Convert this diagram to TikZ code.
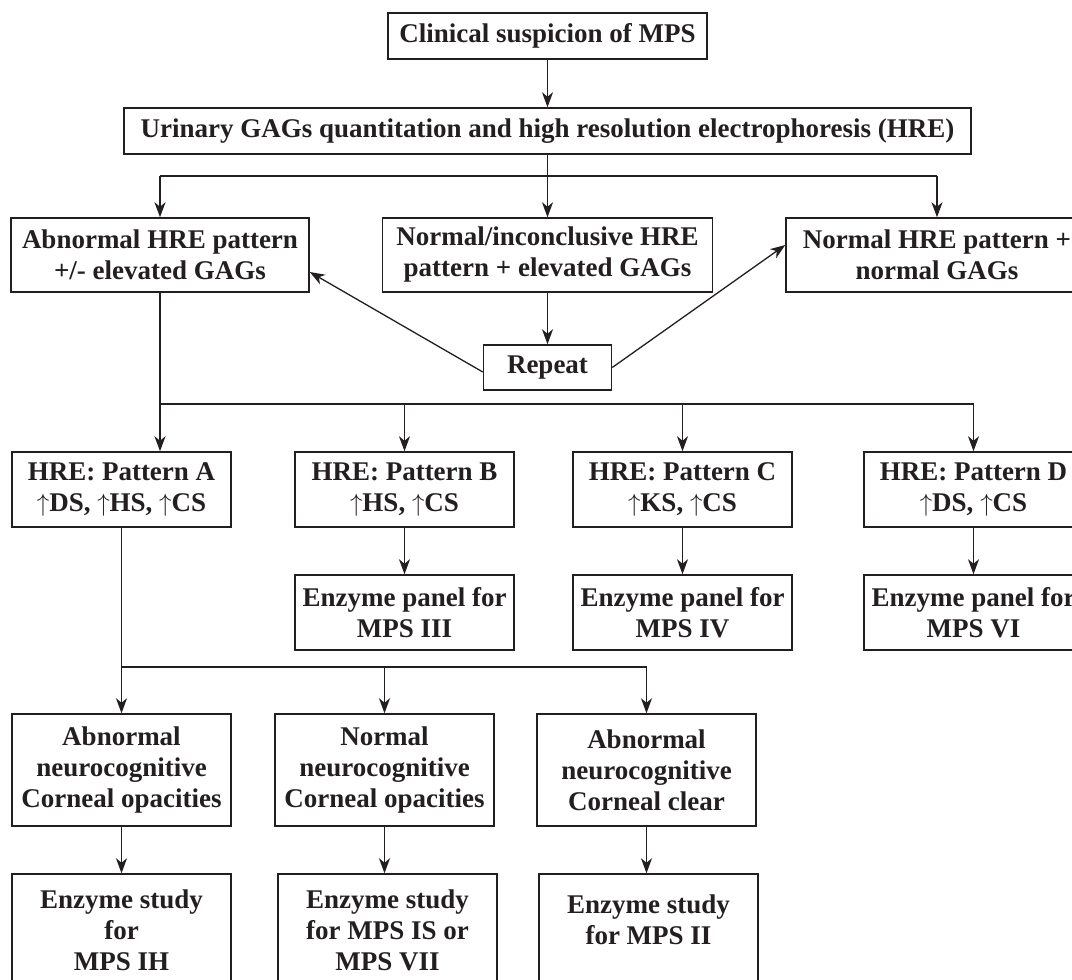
\documentclass[tikz,border=0pt]{standalone}
\usepackage{fontspec}
\setmainfont{Liberation Serif}
\usetikzlibrary{arrows.meta,calc}
\definecolor{ink}{RGB}{35,31,32}
\newcommand{\upa}{$\uparrow$}
\begin{document}
\begin{tikzpicture}[x=1pt,y=-1pt,
  txt/.style={align=center, inner sep=0pt, font=\fontsize{27}{31}\selectfont\bfseries, text=ink},
  box/.style={txt, draw=ink, line width=1.5pt},
  pbox/.style={box, minimum width=219pt, minimum height=75pt},
  nbox/.style={box, minimum width=219pt, minimum height=112pt},
  conn/.style={draw=ink, line width=1.3pt},
  arr/.style={conn, -{Stealth[length=15pt,width=11pt,inset=4.5pt]}}]
\useasboundingbox (0,0) rectangle (1072,980);
\clip (0,0) rectangle (1072,980);
\fill[white] (0,0) rectangle (1072,980);

% level 0-1
\node[box, minimum width=319pt, minimum height=46pt] (top) at (547.5,36) {Clinical suspicion of MPS};
\node[box, minimum width=847pt, minimum height=46pt] (uri) at (547.5,131) {Urinary GAGs quantitation and high resolution electrophoresis (HRE)};

% level 2
\node[box, minimum width=298pt, minimum height=74pt] (b1) at (160,255) {Abnormal HRE pattern\\+/- elevated GAGs};
\node[box, minimum width=330pt, minimum height=74pt] (b2) at (547.5,255) {Normal/inconclusive HRE\\pattern + elevated GAGs};
\node[box, minimum width=302pt, minimum height=74pt] (b3) at (937,255) {Normal HRE pattern +\\normal GAGs};
\node[box, minimum width=128pt, minimum height=45pt] (rep) at (547.5,367.5) {Repeat};

% level 3
\node[pbox] (pA) at (121.5,489.5) {HRE: Pattern A\\\upa DS, \upa HS, \upa CS};
\node[pbox] (pB) at (404.5,489.5) {HRE: Pattern B\\\upa HS, \upa CS};
\node[pbox] (pC) at (682.5,489.5) {HRE: Pattern C\\\upa KS, \upa CS};
\node[pbox] (pD) at (973.5,489.5) {HRE: Pattern D\\\upa DS, \upa CS};

\node[pbox] (eB) at (404.5,612.5) {Enzyme panel for\\MPS III};
\node[pbox] (eC) at (682.5,612.5) {Enzyme panel for\\MPS IV};
\node[pbox] (eD) at (973.5,612.5) {Enzyme panel for\\MPS VI};

% level 4
\node[nbox] (n1) at (121.5,770) {Abnormal\\neurocognitive\\Corneal opacities};
\node[nbox] (n2) at (384.5,770) {Normal\\neurocognitive\\Corneal opacities};
\node[nbox] (n3) at (646.5,770) {Abnormal\\neurocognitive\\Corneal clear};

\node[nbox] (s1) at (121.5,930) {Enzyme study\\for\\MPS IH};
\node[nbox] (s2) at (387.5,930) {Enzyme study\\for MPS IS or\\MPS VII};
\node[nbox] (s3) at (648.5,930) {};
\node[txt] (s3t) at (648.5,920) {Enzyme study\\for MPS II};

% connectors
\coordinate (h1) at (0,176);
\coordinate (h2) at (0,404);
\coordinate (h3) at (0,667);

\draw[arr] (top) -- (uri);
\draw[arr] (uri.south) -- (b2.north);
\draw[conn] (b1.north |- h1) -- (b3.north |- h1);
\draw[arr] (b1.north |- h1) -- (b1.north);
\draw[arr] (b3.north |- h1) -- (b3.north);
\draw[arr] (b2.south) -- (rep.north);
\draw[arr] ([yshift=-4.5pt]rep.west) -- ([yshift=-17pt]b1.east);
\draw[arr] (rep.east) -- ([yshift=10pt]b3.west);

\draw[conn] (b1.south) -- (b1.south |- h2);
\draw[conn] (b1.south |- h2) -- (pD.north |- h2);
\draw[arr] (b1.south |- h2) -- (b1.south |- pA.north);
\draw[arr] (pB.north |- h2) -- (pB.north);
\draw[arr] (pC.north |- h2) -- (pC.north);
\draw[arr] (pD.north |- h2) -- (pD.north);

\draw[arr] (pB) -- (eB);
\draw[arr] (pC) -- (eC);
\draw[arr] (pD) -- (eD);

\draw[conn] (pA.south) -- (pA.south |- h3);
\draw[conn] (pA.south |- h3) -- (n3.north |- h3);
\draw[arr] (n1.north |- h3) -- (n1.north);
\draw[arr] (n2.north |- h3) -- (n2.north);
\draw[arr] (n3.north |- h3) -- (n3.north);

\draw[arr] (n1.south) -- (n1.south |- s1.north);
\draw[arr] (n2.south) -- (n2.south |- s2.north);
\draw[arr] (n3.south) -- (n3.south |- s3.north);
\end{tikzpicture}
\end{document}
